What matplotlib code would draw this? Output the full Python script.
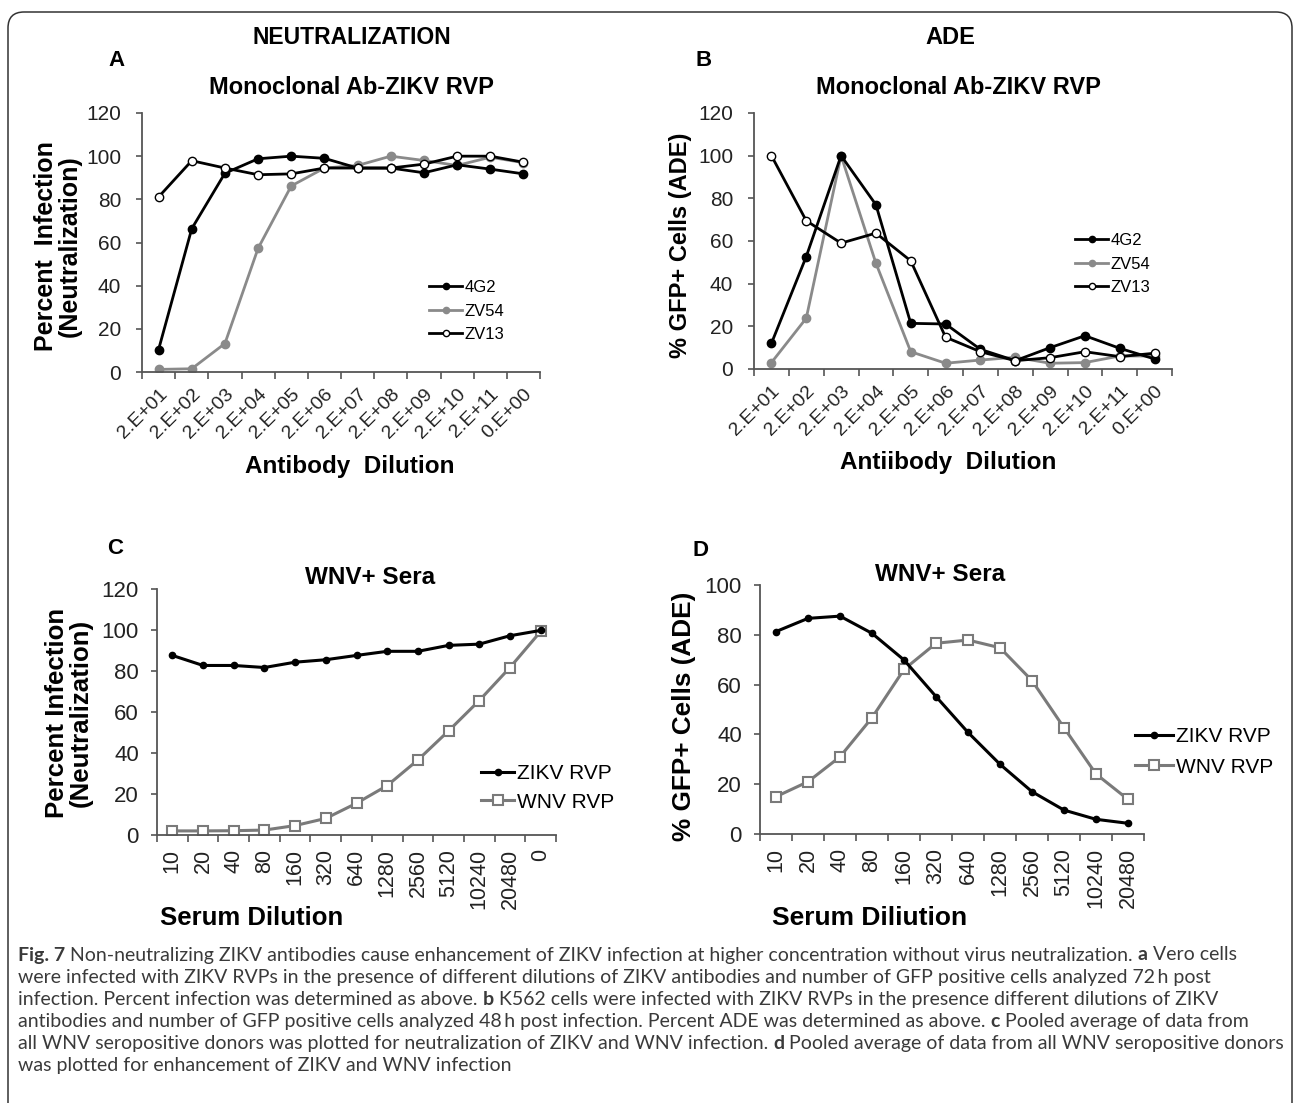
import numpy as np
import matplotlib
matplotlib.use('Agg')
import matplotlib.pyplot as plt
from matplotlib.patches import FancyBboxPatch
from matplotlib.transforms import IdentityTransform

W, H = 1293, 1103
plt.rcParams['font.family'] = ['Liberation Sans', 'DejaVu Sans']

# ---- data ----
ab_dilutions = ['2.E+01', '2.E+02', '2.E+03', '2.E+04', '2.E+05', '2.E+06',
                '2.E+07', '2.E+08', '2.E+09', '2.E+10', '2.E+11', '0.E+00']
neut_4g2 = [10.4, 66.4, 92.1, 98.8, 100.0, 99.0, 94.5, 94.5, 92.3, 96.0, 94.0, 91.8]
neut_zv54 = [1.2, 1.5, 13.2, 57.3, 86.2, 94.5, 95.7, 100.0, 98.0, 95.7, 99.5, 97.0]
neut_zv13 = [81.1, 97.9, 94.5, 91.4, 91.8, 94.5, 94.5, 94.5, 96.3, 100.0, 100.0, 97.2]

ade_4g2 = [12.0, 52.7, 100.0, 77.0, 21.4, 21.1, 9.2, 3.9, 10.0, 15.6, 9.7, 4.7]
ade_zv54 = [3.0, 23.8, 100.0, 49.6, 8.1, 2.7, 4.2, 5.5, 2.7, 3.0, 6.1, 6.1]
ade_zv13 = [100.0, 69.5, 59.0, 63.7, 50.7, 14.9, 8.1, 3.9, 5.3, 8.1, 5.8, 7.4]

serum_dil_c = ['10', '20', '40', '80', '160', '320', '640', '1280', '2560',
               '5120', '10240', '20480', '0']
sera_neut_zikv = [87.6, 82.7, 82.7, 81.7, 84.3, 85.5, 87.6, 89.6, 89.6, 92.5, 93.1, 97.2, 99.8]
sera_neut_wnv = [2.0, 2.0, 2.1, 2.4, 4.6, 8.1, 15.5, 24.1, 36.6, 50.8, 65.6, 81.7, 99.3]

serum_dil_d = ['10', '20', '40', '80', '160', '320', '640', '1280', '2560',
               '5120', '10240', '20480']
sera_ade_zikv = [81.3, 86.6, 87.5, 80.6, 69.9, 55.2, 40.8, 28.0, 17.0, 9.6, 5.9, 4.3]
sera_ade_wnv = [15.0, 21.0, 31.0, 46.7, 66.1, 76.6, 77.9, 74.8, 61.6, 42.7, 24.1, 13.9]

GREY = '#8a8a8a'
GREY2 = '#7a7a7a'
AXC = '#555555'


def rect(l, t, r, b):
    return [l / W, 1 - b / H, (r - l) / W, (b - t) / H]


def fx(x):
    return x / W


def fy(y):
    return 1 - y / H


def excel_axes(ax, labels, ymax, ystep, ysize, xsize, ypad, xpad, rot):
    n = len(labels)
    ax.set_xlim(-0.5, n - 0.5)
    ax.set_ylim(0, ymax)
    for s in ['top', 'right']:
        ax.spines[s].set_visible(False)
    for s in ['left', 'bottom']:
        ax.spines[s].set_color(AXC)
        ax.spines[s].set_linewidth(1.3)
    ax.set_yticks(np.arange(0, ymax + 1, ystep))
    ax.tick_params(axis='y', length=4, width=1.2, color=AXC, pad=ypad,
                   labelsize=ysize, labelcolor='#222222')
    ax.set_xticks(np.arange(n))
    ax.set_xticks(np.arange(-0.5, n), minor=True)
    ax.tick_params(axis='x', which='major', length=0, labelsize=xsize,
                   labelcolor='#222222', pad=xpad)
    ax.tick_params(axis='x', which='minor', length=5, width=1.2, color=AXC)
    if rot == 45:
        ax.set_xticklabels(labels, rotation=45, ha='right', va='top',
                           rotation_mode='anchor')
    else:
        ax.set_xticklabels(labels, rotation=90, ha='center', va='top')


def small_legend(ax, x_px, y_px, size, hl, spacing, mscale):
    ax.legend(loc='center left', bbox_to_anchor=(fx(x_px), fy(y_px)),
              bbox_transform=ax.figure.transFigure, frameon=False,
              fontsize=size, handlelength=hl, handletextpad=0.15,
              labelspacing=spacing, borderpad=0, borderaxespad=0,
              markerscale=mscale)


fig = plt.figure(figsize=(W / 100, H / 100), dpi=100)

# rounded frame around the figure
frame = FancyBboxPatch((8, H - 1130), 1284, 1118,
                       boxstyle='round,pad=0,rounding_size=16',
                       transform=IdentityTransform(), fill=False,
                       edgecolor='#333333', linewidth=1.1)
fig.add_artist(frame)

# ---- A: neutralization, monoclonal ----
axA = fig.add_axes(rect(142, 113, 540, 372))
x = np.arange(len(ab_dilutions))
axA.plot(x, neut_4g2, color='black', lw=2, marker='o', ms=6, mfc='black', mec='black', label='4G2', zorder=3)
axA.plot(x, neut_zv54, color=GREY, lw=2, marker='o', ms=6, mfc=GREY, mec=GREY, label='ZV54', zorder=2)
axA.plot(x, neut_zv13, color='black', lw=2, marker='o', ms=6, mfc='white', mec='black', label='ZV13', zorder=4)
excel_axes(axA, ab_dilutions, 120, 20, 15, 14, 11, 10, 45)
small_legend(axA, 429, 311, 12, 2.0, 0.5, 0.75)

# ---- B: ADE, monoclonal ----
axB = fig.add_axes(rect(754, 113, 1172, 369))
axB.plot(x, ade_4g2, color='black', lw=2, marker='o', ms=6, mfc='black', mec='black', label='4G2', zorder=3)
axB.plot(x, ade_zv54, color=GREY, lw=2, marker='o', ms=6, mfc=GREY, mec=GREY, label='ZV54', zorder=2)
axB.plot(x, ade_zv13, color='black', lw=2, marker='o', ms=6, mfc='white', mec='black', label='ZV13', zorder=4)
excel_axes(axB, ab_dilutions, 120, 20, 15, 14, 11, 10, 45)
small_legend(axB, 1075, 264, 12, 2.0, 0.5, 0.75)

# ---- C: neutralization, sera ----
axC = fig.add_axes(rect(157, 589, 556, 835))
xc = np.arange(len(serum_dil_c))
axC.plot(xc, sera_neut_zikv, color='black', lw=2.2, marker='o', ms=4.5, label='ZIKV RVP', zorder=3)
axC.plot(xc, sera_neut_wnv, color=GREY2, lw=2.2, marker='s', ms=6.5, mfc='white',
         mec=GREY2, mew=1.5, label='WNV RVP', zorder=2)
excel_axes(axC, serum_dil_c, 120, 20, 16, 15.5, 9, 10, 90)
small_legend(axC, 481, 788, 15, 1.6, 0.45, 1.0)

# ---- D: ADE, sera ----
axD = fig.add_axes(rect(760, 585, 1144, 834))
xd = np.arange(len(serum_dil_d))
axD.plot(xd, sera_ade_zikv, color='black', lw=2.2, marker='o', ms=4.5, label='ZIKV RVP', zorder=3)
axD.plot(xd, sera_ade_wnv, color=GREY2, lw=2.2, marker='s', ms=6.5, mfc='white',
         mec=GREY2, mew=1.5, label='WNV RVP', zorder=2)
excel_axes(axD, serum_dil_d, 100, 20, 16, 15.5, 9, 10, 90)
small_legend(axD, 1135, 752, 15, 1.8, 0.55, 1.0)

# ---- headings and labels ----
bold = dict(fontweight='bold', color='black', ha='center', va='center')
fig.text(fx(352), fy(37), 'NEUTRALIZATION', fontsize=16.5, **bold)
fig.text(fx(950), fy(37), 'ADE', fontsize=17, **bold)
fig.text(fx(116), fy(61), 'A', fontsize=16, **bold)
fig.text(fx(704), fy(60), 'B', fontsize=16, **bold)
fig.text(fx(115), fy(548), 'C', fontsize=16, **bold)
fig.text(fx(700), fy(550), 'D', fontsize=16, **bold)
fig.text(fx(351), fy(88), 'Monoclonal Ab-ZIKV RVP', fontsize=17, **bold)
fig.text(fx(958), fy(88), 'Monoclonal Ab-ZIKV RVP', fontsize=17, **bold)
fig.text(fx(370), fy(577), 'WNV+ Sera', fontsize=17.5, **bold)
fig.text(fx(940), fy(575), 'WNV+ Sera', fontsize=17.5, **bold)

fig.text(fx(58), fy(246), 'Percent  Infection\n(Neutralization)', fontsize=18,
         rotation=90, linespacing=1.0, **bold)
fig.text(fx(681), fy(245), '% GFP+ Cells (ADE)', fontsize=17, rotation=90, **bold)
fig.text(fx(69), fy(713), 'Percent Infection\n(Neutralization)', fontsize=18.6,
         rotation=90, linespacing=1.0, **bold)
fig.text(fx(684), fy(716), '% GFP+ Cells (ADE)', fontsize=18.8, rotation=90, **bold)

fig.text(fx(350), fy(467), 'Antibody  Dilution', fontsize=17.5, **bold)
fig.text(fx(948), fy(462), 'Antiibody  Dilution', fontsize=17.5, **bold)
fig.text(fx(252), fy(918), 'Serum Dilution', fontsize=18.5, **bold)
fig.text(fx(870), fy(918), 'Serum Diliution', fontsize=19, **bold)

# ---- caption, drawn piece by piece so the bold letters sit inline ----
caption = [
    [('Fig. 7', True), ('Non-neutralizing ZIKV antibodies cause enhancement of ZIKV infection at higher concentration without virus neutralization.', False),
     ('a', True), ('Vero cells', False)],
    [('were infected with ZIKV RVPs in the presence of different dilutions of ZIKV antibodies and number of GFP positive cells analyzed 72\u2009h post', False)],
    [('infection. Percent infection was determined as above.', False), ('b', True),
     ('K562 cells were infected with ZIKV RVPs in the presence different dilutions of ZIKV', False)],
    [('antibodies and number of GFP positive cells analyzed 48\u2009h post infection. Percent ADE was determined as above.', False),
     ('c', True), ('Pooled average of data from', False)],
    [('all WNV seropositive donors was plotted for neutralization of ZIKV and WNV infection.', False),
     ('d', True), ('Pooled average of data from all WNV seropositive donors', False)],
    [('was plotted for enhancement of ZIKV and WNV infection', False)],
]
cap_font = ['Lato', 'DejaVu Sans']
cap_color = '#3a3a3a'
renderer = fig.canvas.get_renderer()


def text_w(s, size, weight):
    t = fig.text(0, 0, s, fontsize=size, fontweight=weight, family=cap_font)
    w = t.get_window_extent(renderer).width
    t.remove()
    return w


def line_w(parts, size):
    sp = text_w('x x', size, 'normal') - text_w('xx', size, 'normal')
    total = sum(text_w(s, size, 'bold' if b else 'normal') for s, b in parts)
    return total + sp * (len(parts) - 1)


# size chosen so lines 1 and 5 together span about what they span in the reference
cap_size = 11 * ((1224 + 1255) / (line_w(caption[0], 11) + line_w(caption[4], 11)))
space = text_w('x x', cap_size, 'normal') - text_w('xx', cap_size, 'normal')
for i, parts in enumerate(caption):
    xpos = 18
    ypos = 955 + i * 22.2
    for s, b in parts:
        t = fig.text(fx(xpos), fy(ypos), s, fontsize=cap_size,
                     fontweight='bold' if b else 'normal', family=cap_font,
                     color=cap_color, ha='left', va='center')
        xpos += t.get_window_extent(renderer).width + space

fig.savefig('out.png', dpi=100)
